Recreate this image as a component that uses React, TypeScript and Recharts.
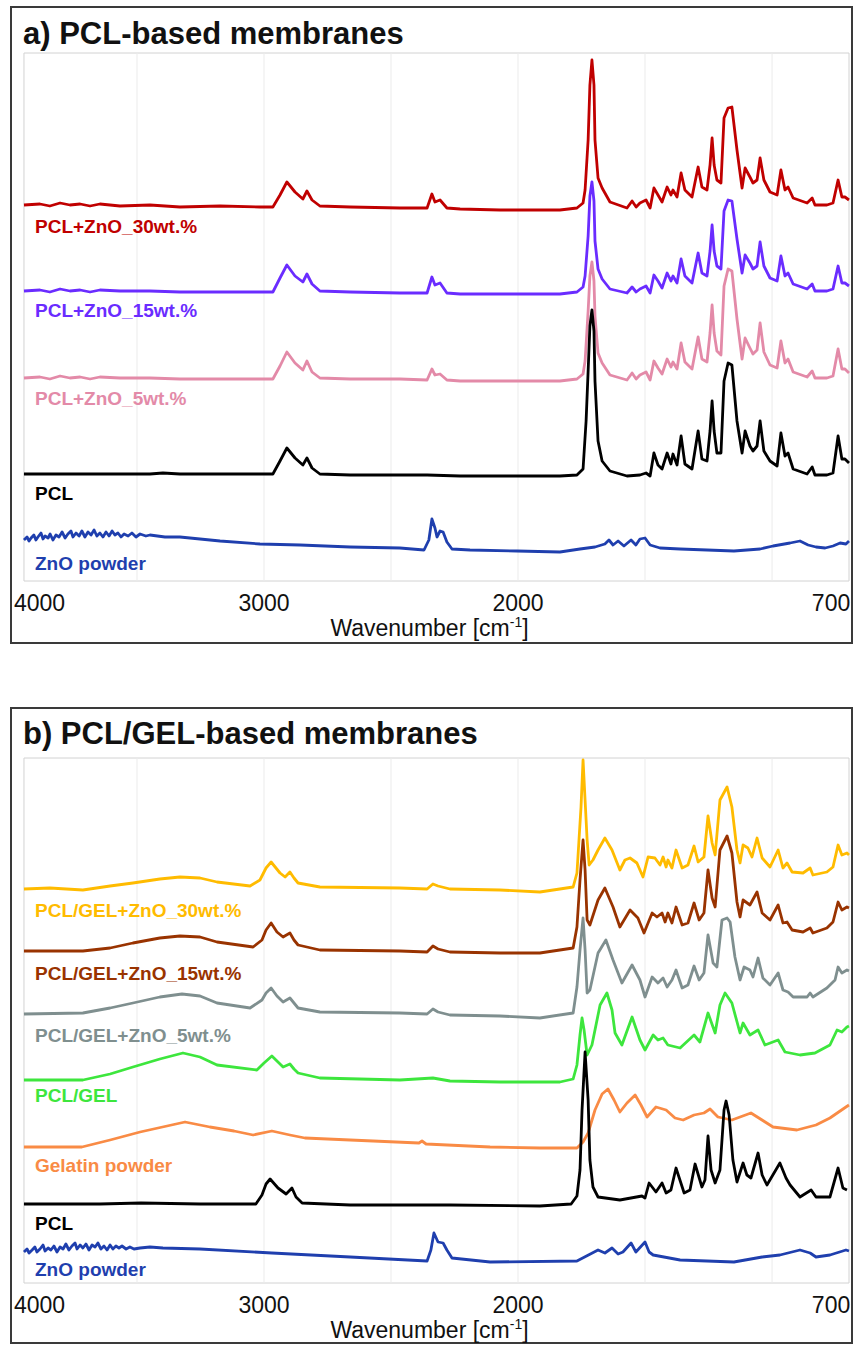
import React from "react";
import { LineChart, Line, XAxis, YAxis, ReferenceLine, ReferenceArea } from "recharts";

type Pt = [number, number];

// wavenumber [cm-1], offset intensity [a.u.]
const pclZnO30: Pt[] = [[3945,376],[3882,377],[3843,375],[3803,378],[3764,376],[3724,377],[3685,375],[3646,377],[3567,375],[3449,376],[3331,374],[3173,375],[3016,374],[2965,374],[2937,386],[2910,399],[2878,389],[2847,382],[2831,390],[2811,381],[2780,375],[2661,374],[2465,373],[2358,373],[2339,387],[2327,379],[2307,381],[2280,373],[2228,372],[2071,371],[1914,371],[1835,371],[1768,373],[1744,378],[1736,391],[1724,441],[1717,496],[1709,521],[1701,496],[1697,441],[1685,403],[1669,393],[1638,379],[1571,373],[1551,380],[1535,374],[1520,378],[1496,381],[1480,373],[1465,393],[1449,386],[1433,379],[1413,394],[1398,386],[1390,391],[1374,384],[1358,408],[1343,391],[1315,384],[1291,414],[1276,394],[1256,391],[1244,416],[1236,443],[1228,416],[1217,401],[1201,398],[1189,463],[1173,473],[1158,474],[1138,431],[1118,393],[1106,413],[1087,404],[1075,398],[1059,401],[1047,423],[1032,401],[1008,389],[980,386],[965,411],[949,391],[937,394],[917,383],[862,378],[842,383],[831,376],[784,376],[760,378],[740,401],[725,384],[713,384],[697,381]];
const pclZnO15: Pt[] = [[3945,290],[3882,291],[3843,289],[3803,292],[3764,290],[3724,291],[3685,289],[3646,291],[3567,290],[3449,290],[3331,289],[3173,289],[3016,289],[2965,289],[2937,303],[2910,316],[2878,305],[2847,299],[2831,307],[2811,297],[2780,290],[2661,289],[2465,288],[2358,288],[2339,304],[2327,296],[2307,298],[2280,288],[2228,287],[2071,287],[1914,287],[1835,287],[1768,289],[1744,294],[1736,305],[1724,345],[1717,385],[1709,399],[1701,380],[1697,340],[1685,312],[1669,302],[1638,292],[1571,288],[1551,294],[1535,289],[1520,292],[1496,295],[1480,288],[1465,306],[1449,300],[1433,293],[1413,308],[1398,300],[1390,305],[1374,298],[1358,322],[1343,305],[1315,298],[1291,328],[1276,308],[1256,305],[1244,330],[1236,356],[1228,330],[1217,315],[1201,312],[1189,370],[1173,381],[1158,380],[1138,342],[1118,308],[1106,326],[1087,318],[1075,312],[1059,315],[1047,339],[1032,315],[1008,303],[980,300],[965,325],[949,305],[937,308],[917,297],[862,292],[842,297],[831,290],[784,290],[760,292],[740,315],[725,298],[713,298],[697,295]];
const pclZnO5: Pt[] = [[3945,203],[3882,204],[3843,202],[3803,205],[3764,203],[3724,204],[3685,202],[3646,204],[3567,203],[3449,203],[3331,202],[3173,202],[3016,202],[2965,202],[2937,215],[2910,229],[2878,218],[2847,211],[2831,220],[2811,209],[2780,203],[2661,202],[2465,202],[2358,201],[2339,212],[2327,206],[2307,207],[2280,201],[2228,200],[2071,200],[1914,200],[1835,200],[1768,202],[1744,207],[1736,220],[1724,270],[1717,305],[1709,319],[1701,300],[1697,265],[1685,228],[1669,218],[1638,206],[1571,201],[1551,208],[1535,202],[1520,206],[1496,209],[1480,201],[1465,220],[1449,213],[1433,207],[1413,222],[1398,214],[1390,219],[1374,212],[1358,238],[1343,219],[1315,212],[1291,244],[1276,222],[1256,219],[1244,248],[1236,276],[1228,248],[1217,230],[1201,226],[1189,295],[1173,312],[1158,310],[1138,262],[1118,222],[1106,243],[1087,233],[1075,227],[1059,231],[1047,258],[1032,229],[1008,216],[980,213],[965,240],[949,218],[937,222],[917,209],[862,204],[842,210],[831,203],[784,203],[760,205],[740,232],[725,212],[713,212],[697,208]];
const pclA: Pt[] = [[3945,107],[3882,107],[3803,107],[3724,107],[3646,107],[3449,107],[3398,108],[3331,107],[3016,107],[2965,107],[2937,120],[2910,133],[2878,123],[2847,116],[2831,123],[2811,113],[2780,107],[2661,106],[2465,106],[2358,106],[2228,105],[2071,105],[1914,105],[1835,105],[1768,106],[1744,112],[1732,160],[1724,210],[1717,255],[1709,271],[1701,250],[1697,200],[1685,140],[1669,120],[1638,110],[1571,105],[1520,106],[1496,108],[1480,105],[1465,128],[1449,116],[1433,112],[1413,128],[1398,117],[1390,127],[1374,116],[1358,145],[1343,117],[1315,112],[1291,150],[1276,122],[1256,120],[1244,150],[1236,180],[1228,150],[1217,128],[1201,128],[1189,200],[1173,218],[1158,216],[1138,160],[1118,128],[1106,150],[1087,135],[1075,130],[1059,135],[1047,160],[1032,130],[1008,120],[980,115],[965,148],[949,125],[937,128],[917,112],[862,107],[842,114],[831,106],[784,106],[760,108],[740,145],[725,122],[713,122],[697,118]];
const znoA: Pt[] = [[3945,41],[3933,44],[3925,40],[3917,43],[3906,46],[3898,41],[3890,44],[3878,48],[3870,42],[3862,45],[3850,43],[3842,47],[3831,41],[3819,46],[3807,44],[3795,49],[3783,43],[3772,47],[3760,50],[3752,44],[3740,48],[3728,45],[3717,50],[3705,44],[3693,49],[3681,46],[3669,51],[3658,45],[3646,48],[3634,44],[3622,49],[3610,45],[3598,50],[3587,46],[3575,48],[3563,44],[3551,47],[3535,45],[3520,48],[3504,44],[3488,47],[3465,45],[3449,46],[3390,44],[3331,44],[3173,40],[3016,37],[2858,36],[2661,34],[2465,33],[2370,31],[2351,41],[2339,62],[2327,53],[2319,44],[2307,50],[2295,49],[2280,39],[2260,32],[2189,31],[2004,30],[1835,29],[1756,32],[1697,34],[1658,37],[1642,41],[1626,36],[1606,40],[1583,35],[1555,41],[1536,36],[1520,42],[1500,43],[1480,36],[1441,33],[1362,32],[1150,30],[1047,32],[996,35],[929,38],[890,40],[858,36],[827,34],[791,33],[760,35],[732,38],[709,37],[697,40]];

const gelZnO30: Pt[] = [[3945,394],[3843,395],[3713,393],[3606,397],[3516,400],[3410,404],[3331,406],[3252,405],[3185,401],[3055,397],[3016,403],[2992,415],[2972,421],[2953,415],[2937,410],[2917,406],[2898,411],[2882,405],[2866,400],[2780,396],[2465,395],[2358,394],[2335,399],[2315,397],[2268,394],[2071,393],[1914,391],[1783,396],[1768,410],[1760,443],[1752,476],[1744,523],[1736,483],[1728,443],[1720,418],[1705,423],[1685,433],[1658,445],[1630,433],[1599,413],[1579,423],[1559,425],[1532,420],[1508,406],[1488,426],[1461,425],[1441,418],[1429,426],[1417,416],[1410,423],[1394,415],[1378,433],[1354,415],[1331,418],[1307,437],[1291,421],[1268,426],[1252,467],[1236,440],[1224,428],[1205,483],[1177,496],[1158,476],[1138,433],[1126,420],[1114,438],[1095,435],[1079,426],[1059,445],[1039,425],[1008,416],[976,433],[957,415],[941,420],[921,411],[878,410],[850,415],[839,408],[784,411],[760,416],[740,438],[725,428],[705,430],[697,428]];
const gelZnO15: Pt[] = [[3945,332],[3713,332],[3606,335],[3516,340],[3410,345],[3331,347],[3252,346],[3185,341],[3043,336],[3008,343],[2992,353],[2972,360],[2949,351],[2925,346],[2898,350],[2882,343],[2866,338],[2780,333],[2465,332],[2358,331],[2335,337],[2315,334],[2268,331],[2071,330],[1914,330],[1783,335],[1768,356],[1756,403],[1744,443],[1736,413],[1728,363],[1717,358],[1685,383],[1658,395],[1626,376],[1599,356],[1559,373],[1528,365],[1504,350],[1472,370],[1453,366],[1433,370],[1421,361],[1410,370],[1394,360],[1378,376],[1354,358],[1331,360],[1307,380],[1287,363],[1268,370],[1252,413],[1236,385],[1224,376],[1205,433],[1177,447],[1158,430],[1138,381],[1126,366],[1114,383],[1087,378],[1059,391],[1039,370],[1008,363],[976,378],[957,360],[941,361],[921,353],[878,351],[850,355],[839,350],[784,355],[760,361],[740,381],[725,373],[705,376],[697,375]];
const gelZnO5: Pt[] = [[3945,269],[3713,270],[3606,275],[3516,280],[3410,286],[3323,289],[3252,287],[3185,280],[3055,275],[3008,283],[2992,290],[2972,295],[2949,287],[2925,281],[2898,285],[2882,280],[2866,275],[2780,271],[2465,270],[2358,269],[2335,274],[2315,271],[2268,268],[2071,267],[1914,265],[1783,270],[1768,296],[1756,333],[1744,365],[1736,333],[1728,290],[1717,293],[1685,330],[1654,343],[1626,323],[1591,300],[1551,318],[1520,303],[1500,286],[1472,306],[1449,300],[1429,305],[1413,296],[1394,303],[1378,313],[1354,295],[1331,298],[1307,317],[1287,303],[1268,310],[1252,348],[1232,320],[1217,316],[1197,363],[1177,365],[1165,361],[1146,326],[1126,303],[1110,316],[1087,313],[1075,306],[1055,325],[1036,305],[1008,298],[976,310],[957,293],[937,291],[917,286],[862,286],[850,290],[839,286],[784,295],[752,303],[740,316],[725,310],[705,313],[697,312]];
const pclGel: Pt[] = [[3945,203],[3713,203],[3606,209],[3516,216],[3410,224],[3319,230],[3252,226],[3185,218],[3028,213],[3000,220],[2969,227],[2945,221],[2925,216],[2898,219],[2882,214],[2866,210],[2780,205],[2465,203],[2335,205],[2268,202],[2071,201],[1835,201],[1783,204],[1768,218],[1756,248],[1748,265],[1740,253],[1728,228],[1709,238],[1677,278],[1650,290],[1630,273],[1618,250],[1591,238],[1551,266],[1520,243],[1500,233],[1468,248],[1449,243],[1429,245],[1410,238],[1362,235],[1307,248],[1284,241],[1252,270],[1224,250],[1205,278],[1185,290],[1158,280],[1126,250],[1114,260],[1087,248],[1055,253],[1028,238],[976,243],[949,231],[890,228],[831,230],[772,238],[744,253],[725,251],[705,256],[697,257]];
const gelatin: Pt[] = [[3945,136],[3717,136],[3606,143],[3488,151],[3311,161],[3213,156],[3118,152],[3043,148],[2969,152],[2898,148],[2839,145],[2661,143],[2390,140],[2378,142],[2362,139],[2110,136],[1914,135],[1768,135],[1744,141],[1724,150],[1697,173],[1669,189],[1646,194],[1622,183],[1599,171],[1571,180],[1539,188],[1516,178],[1492,166],[1457,176],[1417,173],[1382,165],[1350,163],[1307,168],[1268,170],[1244,174],[1213,166],[1158,163],[1083,170],[996,156],[902,153],[827,158],[772,165],[709,176],[697,178]];
const pclB: Pt[] = [[3945,79],[3646,79],[3484,80],[3252,79],[3032,79],[3008,88],[2992,99],[2976,104],[2945,95],[2913,89],[2890,95],[2874,86],[2850,80],[2661,78],[2268,78],[1914,77],[1791,79],[1768,87],[1756,113],[1748,173],[1736,231],[1724,183],[1717,123],[1705,96],[1685,86],[1599,83],[1512,87],[1500,85],[1484,100],[1457,91],[1433,100],[1417,90],[1398,93],[1378,115],[1346,90],[1323,93],[1303,119],[1276,96],[1264,103],[1252,147],[1240,113],[1224,100],[1205,113],[1189,173],[1181,182],[1169,168],[1154,123],[1138,101],[1114,120],[1099,108],[1083,105],[1055,130],[1039,108],[1020,98],[969,120],[945,105],[929,98],[890,86],[846,93],[827,86],[772,86],[740,115],[721,95],[705,93]];
const znoB: Pt[] = [[3945,31],[3933,34],[3925,30],[3913,33],[3902,36],[3894,31],[3882,34],[3870,38],[3862,32],[3850,35],[3839,33],[3827,37],[3815,31],[3803,36],[3791,34],[3780,39],[3768,33],[3756,37],[3744,40],[3736,34],[3724,38],[3713,35],[3701,39],[3689,33],[3677,38],[3665,36],[3654,40],[3642,34],[3630,37],[3618,33],[3606,38],[3595,34],[3583,37],[3571,35],[3559,37],[3543,34],[3528,36],[3512,34],[3488,35],[3449,36],[3398,35],[3252,34],[2969,30],[2661,26],[2358,22],[2343,33],[2331,50],[2315,41],[2295,40],[2280,33],[2260,25],[2110,21],[1768,22],[1685,33],[1658,30],[1630,35],[1606,29],[1587,31],[1555,40],[1536,31],[1500,41],[1484,31],[1468,28],[1362,23],[1150,21],[1039,26],[969,28],[890,33],[850,30],[827,26],[772,28],[709,33],[697,32]];

const xTicks = [4000, 3000, 2000, 700];
const xTickLabels = ["4000", "3000", "2000", "700"];
const gridWavenumbers = [3500, 3000, 2500, 2000, 1500, 1000];
const scanRange: [number, number] = [3945, 697];

type Series = { name: string; color: string; data: Pt[] };

const seriesA: Series[] = [
  { name: "PCL+ZnO_30wt.%", color: "#c00000", data: pclZnO30 },
  { name: "PCL+ZnO_15wt.%", color: "#6a2cff", data: pclZnO15 },
  { name: "PCL+ZnO_5wt.%", color: "#e38aa8", data: pclZnO5 },
  { name: "PCL", color: "#000000", data: pclA },
  { name: "ZnO powder", color: "#1f3fae", data: znoA },
];
const seriesB: Series[] = [
  { name: "PCL/GEL+ZnO_30wt.%", color: "#ffbb00", data: gelZnO30 },
  { name: "PCL/GEL+ZnO_15wt.%", color: "#993300", data: gelZnO15 },
  { name: "PCL/GEL+ZnO_5wt.%", color: "#7f8f8f", data: gelZnO5 },
  { name: "PCL/GEL", color: "#3de63d", data: pclGel },
  { name: "Gelatin powder", color: "#f98b45", data: gelatin },
  { name: "PCL", color: "#000000", data: pclB },
  { name: "ZnO powder", color: "#1f3fae", data: znoB },
];

const FONT = '"Liberation Sans", Arial, Helvetica, sans-serif';

const rows = (pts: Pt[]) => pts.map(([w, a]) => ({ w, a }));

function WaveTick(props: any) {
  const { x, y, payload } = props;
  const i = xTicks.indexOf(payload.value);
  const last = xTicks.length - 1;
  const anchor = i === 0 ? "start" : i === last ? "end" : "middle";
  const dx = i === 0 ? 4 : i === last ? 2 : 0;
  return (
    <text x={x + dx} y={y + 30} textAnchor={anchor} fontFamily={FONT} fontSize={23} fill="#111">
      {xTickLabels[i]}
    </text>
  );
}

function AxisTitle(props: any) {
  const vb = props.viewBox || { x: 0, y: 0, width: 0 };
  return (
    <text x={vb.x + vb.width / 2} y={vb.y + 55} textAnchor="middle" fontFamily={FONT} fontSize={23} fill="#111">
      Wavenumber [cm<tspan dy={-9} fontSize={14}>-1</tspan>
      <tspan dy={9}>]</tspan>
    </text>
  );
}

function Panel({
  top, title, series, labelTops, yMax, plotTop, plotBottom, boxTop, boxHeight, titleTop,
}: {
  top: number; title: string; series: Series[]; labelTops: number[]; yMax: number;
  plotTop: number; plotBottom: number; boxTop: number; boxHeight: number; titleTop: number;
}) {
  const height = 645;
  const axisH = 40;
  return (
    <>
      <div style={{ position: "absolute", left: 10, top: boxTop, width: 843, height: boxHeight, border: "2px solid #3a3a3a", boxSizing: "border-box" }} />
      <div style={{ position: "absolute", left: 23, top: titleTop, fontFamily: FONT, fontWeight: 700, fontSize: 31, lineHeight: 1, whiteSpace: "nowrap", color: "#111" }}>
        {title}
      </div>
      <div style={{ position: "absolute", left: 0, top }}>
        <LineChart
          width={853}
          height={height}
          margin={{ top: plotTop - top, right: 4, left: 10, bottom: height - (plotBottom - top) - axisH }}
        >
          <XAxis
            dataKey="w"
            type="number"
            domain={[697, 4000]}
            reversed
            ticks={xTicks}
            interval={0}
            tick={<WaveTick />}
            tickLine={false}
            axisLine={false}
            tickSize={0}
            tickMargin={0}
            height={axisH}
            label={<AxisTitle />}
          />
          <YAxis type="number" domain={[0, yMax]} hide />
          {gridWavenumbers.map((g) => (
            <ReferenceLine key={g} x={g} stroke="#ebebeb" strokeWidth={1} />
          ))}
          <ReferenceArea x1={scanRange[0]} x2={scanRange[1]} fill="none" stroke="#d2d2d2" strokeWidth={1} />
          {series.map((s) => (
            <Line
              key={s.name + s.color}
              data={rows(s.data)}
              dataKey="a"
              type="linear"
              stroke={s.color}
              strokeWidth={2.8}
              strokeLinejoin="round"
              dot={false}
              isAnimationActive={false}
            />
          ))}
        </LineChart>
      </div>
      {series.map((s, i) => (
        <div
          key={"lab" + i}
          style={{ position: "absolute", left: 35, top: labelTops[i], fontFamily: FONT, fontWeight: 700, fontSize: 19, lineHeight: 1, whiteSpace: "nowrap", color: s.color }}
        >
          {s.name}
        </div>
      ))}
    </>
  );
}

export default function App() {
  return (
    <div style={{ position: "absolute", left: 0, top: 0, width: 853, height: 1345, background: "#fff", overflow: "hidden" }}>
      <Panel
        top={0}
        title="a) PCL-based membranes"
        series={seriesA}
        labelTops={[217, 301, 389, 484, 554]}
        yMax={528}
        plotTop={53}
        plotBottom={581}
        boxTop={6}
        boxHeight={638}
        titleTop={18}
      />
      <Panel
        top={700}
        title="b) PCL/GEL-based membranes"
        series={seriesB}
        labelTops={[901, 964, 1026, 1086, 1156, 1214, 1260]}
        yMax={525}
        plotTop={758}
        plotBottom={1283}
        boxTop={707}
        boxHeight={637}
        titleTop={718}
      />
    </div>
  );
}
